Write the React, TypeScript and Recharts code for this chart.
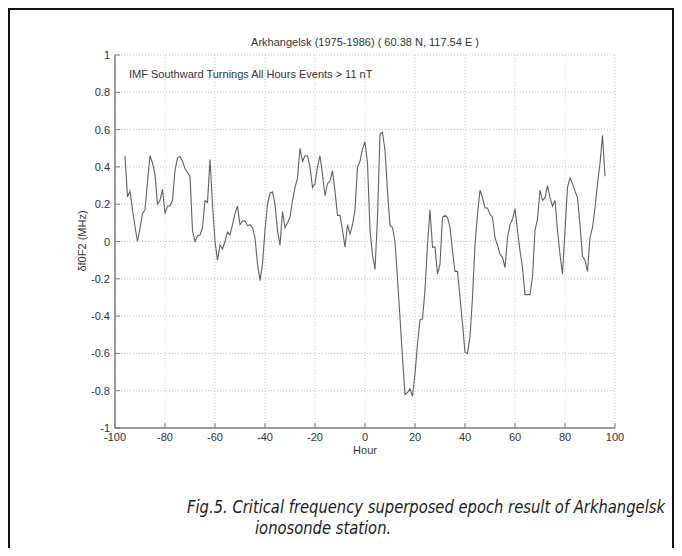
import React from "react";
import { LineChart, Line, XAxis, YAxis, CartesianGrid } from "recharts";

// hourly superposed-epoch values, hour -96 .. 96
const START_HOUR = -96;
const dfoF2 = [
  0.46, 0.24, 0.27, 0.17, 0.08, 0.0, 0.07, 0.15, 0.17, 0.32, // -96..-87
  0.46, 0.42, 0.36, 0.2, 0.22, 0.28, 0.15, 0.19, 0.19, 0.22, // -86..-77
  0.38, 0.45, 0.455, 0.43, 0.39, 0.37, 0.35, 0.06, 0.0, 0.03, // -76..-67
  0.035, 0.075, 0.22, 0.21, 0.44, 0.2, 0.0, -0.1, -0.02, -0.04, // -66..-57
  0.0, 0.05, 0.035, 0.09, 0.15, 0.19, 0.09, 0.11, 0.11, 0.085, // -56..-47
  0.09, 0.075, 0.02, -0.12, -0.21, -0.12, 0.06, 0.2, 0.26, 0.265, // -46..-37
  0.2, 0.06, -0.02, 0.16, 0.075, 0.1, 0.13, 0.22, 0.29, 0.34, // -36..-27
  0.5, 0.43, 0.46, 0.46, 0.4, 0.29, 0.31, 0.4, 0.46, 0.36, // -26..-17
  0.245, 0.31, 0.325, 0.38, 0.27, 0.14, 0.14, 0.06, -0.03, 0.09, // -16..-7
  0.04, 0.09, 0.17, 0.4, 0.43, 0.495, 0.535, 0.42, 0.06, -0.07, // -6..3
  -0.15, 0.13, 0.575, 0.585, 0.49, 0.27, 0.085, 0.075, 0.0, -0.2, // 4..13
  -0.41, -0.62, -0.82, -0.81, -0.79, -0.83, -0.71, -0.55, -0.42, -0.415, // 14..23
  -0.26, -0.015, 0.17, -0.03, -0.03, -0.175, -0.12, 0.13, 0.14, 0.13, // 24..33
  0.075, -0.05, -0.16, -0.16, -0.3, -0.44, -0.595, -0.6, -0.51, -0.3, // 34..43
  -0.015, 0.145, 0.275, 0.235, 0.18, 0.18, 0.145, 0.13, 0.02, -0.02, // 44..53
  -0.07, -0.085, -0.14, 0.02, 0.09, 0.12, 0.175, 0.06, -0.05, -0.14, // 54..63
  -0.285, -0.285, -0.285, -0.19, 0.06, 0.12, 0.275, 0.22, 0.235, 0.3, // 64..73
  0.235, 0.19, 0.22, 0.06, -0.07, -0.175, 0.06, 0.29, 0.34, 0.31, // 74..83
  0.27, 0.235, 0.09, -0.08, -0.1, -0.16, 0.02, 0.075, 0.18, 0.31, // 84..93
  0.42, 0.57, 0.35, // 94..96
];

const xTicks = [-100, -80, -60, -40, -20, 0, 20, 40, 60, 80, 100];
const yTicks = [-1, -0.8, -0.6, -0.4, -0.2, 0, 0.2, 0.4, 0.6, 0.8, 1];

const captionLines = [
  "Fig.5. Critical frequency superposed epoch result of Arkhangelsk",
  "ionosonde station.",
];

const data = dfoF2.map((v, i) => ({ hour: START_HOUR + i, df: v }));

const FONT = "'Liberation Sans', Arial, sans-serif";
const CAP_FONT = "'DejaVu Sans', sans-serif";
const AXIS = "#7d7d7d";
const TXT = "#333";

// squeeze the caption to the width it has in the figure
function captionScale() {
  const ctx = document.createElement("canvas").getContext("2d");
  if (!ctx) return 0.8;
  ctx.font = `italic 17px ${CAP_FONT}`;
  const w = ctx.measureText(captionLines[0]).width;
  return w > 0 ? 478 / w : 0.8;
}

const BottomTick = (p: any) => {
  const axisY = p.y - 9;
  return (
    <g>
      <line x1={p.x} x2={p.x} y1={axisY} y2={axisY - 5} stroke={AXIS} />
      <text x={p.x} y={p.y} textAnchor="middle" dominantBaseline="central" fontFamily={FONT} fontSize={11} fill={TXT}>
        {p.payload.value}
      </text>
    </g>
  );
};

const LeftTick = (p: any) => {
  const axisX = p.x + 5;
  return (
    <g>
      <line x1={axisX} x2={axisX + 5} y1={p.y} y2={p.y} stroke={AXIS} />
      <text x={p.x} y={p.y} textAnchor="end" dominantBaseline="central" fontFamily={FONT} fontSize={11} fill={TXT}>
        {p.payload.value}
      </text>
    </g>
  );
};

const TopTick = (p: any) => <line x1={p.x} x2={p.x} y1={p.y} y2={p.y + 5} stroke={AXIS} />;
const RightTick = (p: any) => <line x1={p.x} x2={p.x - 5} y1={p.y} y2={p.y} stroke={AXIS} />;

function Txt({ x, y, size = 11, children, rotate = false, anchor = "middle" }: any) {
  return (
    <div
      style={{
        position: "absolute",
        left: x,
        top: y,
        fontFamily: FONT,
        fontSize: size,
        lineHeight: 1,
        color: TXT,
        whiteSpace: "nowrap",
        transform: `translate(${anchor === "middle" ? "-50%" : "0"}, -50%)${rotate ? " rotate(-90deg)" : ""}`,
        transformOrigin: "center",
      }}
    >
      {children}
    </div>
  );
}

function Caption({ x, y, k, children }: any) {
  return (
    <div
      style={{
        position: "absolute",
        left: x,
        top: y,
        fontFamily: CAP_FONT,
        fontStyle: "italic",
        fontSize: 17,
        lineHeight: 1,
        color: "#1a1a1a",
        whiteSpace: "nowrap",
        transform: `translateY(-50%) scaleX(${k})`,
        transformOrigin: "left center",
      }}
    >
      {children}
    </div>
  );
}

export default function App() {
  const k = captionScale();
  return (
    <div
      style={{
        position: "relative",
        width: 666,
        height: 540,
        boxSizing: "border-box",
        border: "2px solid #111",
        borderBottom: "none",
        background: "#fff",
        overflow: "hidden",
      }}
    >
      <div style={{ position: "absolute", left: 0, top: 0 }}>
        <LineChart width={640} height={460} data={data} margin={{ top: 45, right: 35, left: 55, bottom: 12 }}>
          <CartesianGrid stroke="#c4c4c4" strokeDasharray="1 2" />
          <XAxis
            dataKey="hour"
            type="number"
            domain={[-100, 100]}
            ticks={xTicks}
            allowDataOverflow
            height={30}
            tickSize={0}
            tickMargin={9}
            tickLine={false}
            axisLine={{ stroke: AXIS, strokeWidth: 1.5 }}
            tick={BottomTick}
            interval={0}
          />
          <XAxis
            xAxisId="top"
            orientation="top"
            dataKey="hour"
            type="number"
            domain={[-100, 100]}
            ticks={xTicks}
            height={0}
            tickSize={0}
            tickMargin={0}
            tickLine={false}
            axisLine={{ stroke: AXIS, strokeWidth: 1.5 }}
            tick={TopTick}
            interval={0}
          />
          <YAxis
            type="number"
            domain={[-1, 1]}
            ticks={yTicks}
            allowDataOverflow
            width={50}
            tickSize={0}
            tickMargin={5}
            tickLine={false}
            axisLine={{ stroke: AXIS, strokeWidth: 1.5 }}
            tick={LeftTick}
            interval={0}
          />
          <YAxis
            yAxisId="right"
            orientation="right"
            type="number"
            domain={[-1, 1]}
            ticks={yTicks}
            width={0}
            tickSize={0}
            tickMargin={0}
            tickLine={false}
            axisLine={{ stroke: AXIS, strokeWidth: 1.5 }}
            tick={RightTick}
            interval={0}
          />
          <Line
            type="linear"
            dataKey="df"
            stroke="#616161"
            strokeWidth={1.1}
            dot={false}
            isAnimationActive={false}
          />
        </LineChart>
      </div>

      <Txt x={355} y={32}>Arkhangelsk (1975-1986) ( 60.38 N, 117.54 E )</Txt>
      <Txt x={119} y={64} anchor="start">IMF Southward Turnings All Hours Events &gt; 11 nT</Txt>
      <Txt x={72} y={231} rotate>δf0F2 (MHz)</Txt>
      <Txt x={355} y={440}>Hour</Txt>

      <Caption x={177} y={497} k={k}>{captionLines[0]}</Caption>
      <Caption x={245} y={518} k={k}>{captionLines[1]}</Caption>
    </div>
  );
}
